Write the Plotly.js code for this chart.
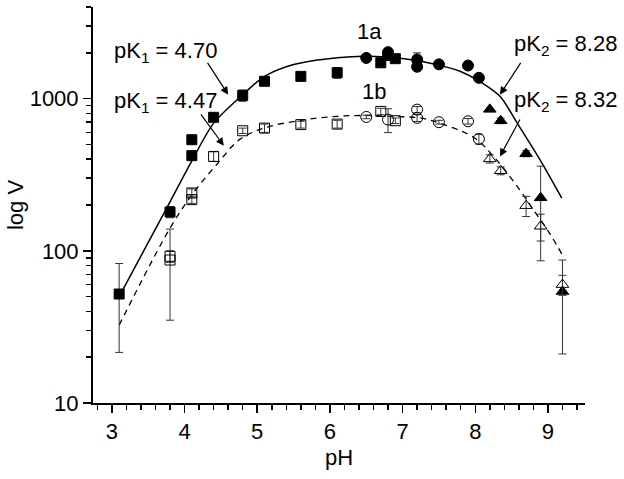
<!DOCTYPE html>
<html>
<head>
<meta charset="utf-8">
<script src="https://cdn.plot.ly/plotly-3.0.1.min.js"></script>
<style>html,body{margin:0;padding:0;background:#fff;}#chart{width:624px;height:479px;}</style>
</head>
<body>
<div id="chart"></div>
<script>
// ---- Data ----
// Series 1a (filled markers)
const sq1a_pH  = [3.1, 3.8, 4.1, 4.1, 4.4, 4.8, 5.1, 5.6, 6.1, 6.7, 6.9];
const sq1a_V   = [52, 180, 537, 422, 754, 1050, 1300, 1400, 1480, 1720, 1830];
const sq1a_err = [30.5, 15, 0, 25, 50, 90, 0, 0, 120, 0, 0];

const ci1a_pH  = [6.5, 6.8, 6.8, 7.2, 7.2, 7.5, 7.9, 8.05];
const ci1a_V   = [1850, 2020, 1930, 1810, 1620, 1680, 1650, 1370];
const ci1a_err = [0, 0, 0, 190, 0, 80, 0, 0];

const tr1a_pH  = [8.2, 8.35, 8.7, 8.9, 9.2];
const tr1a_V   = [850, 715, 435, 223, 54];
const tr1a_err = [0, 30, 20, 137, 33];

// Series 1b (open markers)
const sq1b_pH  = [3.8, 3.8, 4.1, 4.1, 4.4, 4.8, 5.1, 5.6, 6.1, 6.7, 6.9];
const sq1b_V   = [92, 87, 240, 217, 417, 615, 640, 675, 680, 824, 716];
const sq1b_err = [8, 52, 15, 12, 30, 25, 40, 35, 40, 40, 30];

const ci1b_pH  = [6.5, 6.8, 7.2, 7.2, 7.5, 7.9, 8.05];
const ci1b_V   = [758, 728, 847, 747, 700, 710, 543];
const ci1b_err = [20, 130, 40, 40, 20, 30, 40];

const tr1b_pH  = [8.2, 8.35, 8.7, 8.9, 9.2];
const tr1b_V   = [402, 336, 198, 145, 60];
const tr1b_err = [25, 20, 30, 29, 9];

// Fitted curves
const fit1a_pH = [3.1, 3.8, 4.1, 4.4, 4.8, 5.1, 5.5, 5.95, 6.5, 7.05, 7.5, 7.79, 8.06, 8.34, 8.59, 8.89, 9.19];
const fit1a_V  = [50, 210, 390, 690, 1060, 1400, 1675, 1824, 1900, 1820, 1660, 1514, 1300, 1035, 675, 397, 222];

const fit1b_pH = [3.1, 3.8, 4.12, 4.44, 4.76, 5.1, 5.6, 6.1, 6.5, 7.0, 7.24, 7.51, 7.99, 8.29, 8.61, 8.8, 9.02, 9.21];
const fit1b_V  = [32.5, 141, 240, 368, 540, 641, 720, 765, 775, 760, 747, 690, 551, 397, 252, 186, 131, 92];

// Axis ticks
const xTicks = [3, 4, 5, 6, 7, 8, 9];
const yTicks = [10, 100, 1000];
const yTickText = ['10', '100', '1000'];

// ---- Build chart ----
const errStyle = (arr) => ({type: 'data', array: arr, symmetric: true, color: '#333', thickness: 1, width: 4});
const pts = (x, y, err, symbol, size) => ({
  x: x, y: y, type: 'scatter', mode: 'markers',
  marker: {symbol: symbol, size: size, color: '#000', line: {color: '#000', width: 1}},
  error_y: errStyle(err), showlegend: false, hoverinfo: 'skip'
});

const traces = [
  {x: fit1a_pH, y: fit1a_V, type: 'scatter', mode: 'lines', line: {color: '#000', width: 1.5, shape: 'spline', smoothing: 0.8}, showlegend: false},
  {x: fit1b_pH, y: fit1b_V, type: 'scatter', mode: 'lines', line: {color: '#000', width: 1.3, shape: 'spline', dash: '6px,5px'}, showlegend: false},
  pts(sq1a_pH, sq1a_V, sq1a_err, 'square', 10),
  pts(ci1a_pH, ci1a_V, ci1a_err, 'circle', 11),
  pts(tr1a_pH, tr1a_V, tr1a_err, 'triangle-up', 11),
  pts(sq1b_pH, sq1b_V, sq1b_err, 'square-open', 10),
  pts(ci1b_pH, ci1b_V, ci1b_err, 'circle-open', 11),
  pts(tr1b_pH, tr1b_V, tr1b_err, 'triangle-up-open', 11)
];

const font = {family: 'Liberation Sans, Arial, sans-serif', size: 22, color: '#000'};
const txt = (text, x, y, xanchor) => ({text: text, x: x, y: Math.log10(y), xref: 'x', yref: 'y', showarrow: false, xanchor: xanchor, yanchor: 'middle', font: font});
const arr = (x, y, ax, ay) => ({text: '', x: x, y: Math.log10(y), xref: 'x', yref: 'y', showarrow: true, ax: ax, ay: ay, arrowhead: 2, arrowsize: 1.3, arrowwidth: 1.2, arrowcolor: '#000', standoff: 0});

const layout = {
  width: 624, height: 479,
  margin: {l: 93, r: 39, t: 7, b: 76, pad: 0},
  paper_bgcolor: '#fff', plot_bgcolor: '#fff',
  font: font,
  xaxis: {
    range: [2.74, 9.51], showgrid: false, zeroline: false,
    showline: true, linecolor: '#000', linewidth: 2,
    ticks: 'outside', ticklen: 8, tickwidth: 1.5, tickcolor: '#000',
    tickmode: 'array', tickvals: xTicks,
    tickfont: font,
    minor: {ticks: 'outside', ticklen: 5, tickwidth: 1.5, tickcolor: '#000', dtick: 0.2, tick0: 0, showgrid: false},
    title: {text: 'pH', font: font, standoff: 6}
  },
  yaxis: {
    type: 'log', range: [1, Math.log10(4000)], showgrid: false, zeroline: false,
    showline: true, linecolor: '#000', linewidth: 2,
    ticks: 'outside', ticklen: 8, tickwidth: 1.5, tickcolor: '#000',
    tickmode: 'array', tickvals: yTicks, ticktext: yTickText,
    tickfont: font,
    minor: {ticks: 'outside', ticklen: 5, tickwidth: 1.5, tickcolor: '#000', tickmode: 'array',
      tickvals: [20,30,40,50,60,70,80,90,200,300,400,500,600,700,800,900,2000,3000,4000], showgrid: false},
    title: {text: 'log V', font: font, standoff: 0}
  },
  annotations: [
    txt('pK<sub>1</sub> = 4.70', 3.0, 2037, 'left'),
    txt('pK<sub>1</sub> = 4.47', 3.0, 955, 'left'),
    txt('pK<sub>2</sub> = 8.28', 8.5, 2265, 'left'),
    txt('pK<sub>2</sub> = 8.32', 8.5, 960, 'left'),
    txt('1a', 6.54, 2775, 'center'),
    txt('1b', 6.6, 1112, 'center'),
    arr(4.60, 1062, -21.6, -33.3),
    arr(4.54, 491, -24, -32.7),
    arr(8.34, 1062, 21.7, -33.3),
    arr(8.34, 417, 20.7, -38.4)
  ]
};

Plotly.newPlot('chart', traces, layout, {displayModeBar: false, staticPlot: true});
</script>
</body>
</html>
